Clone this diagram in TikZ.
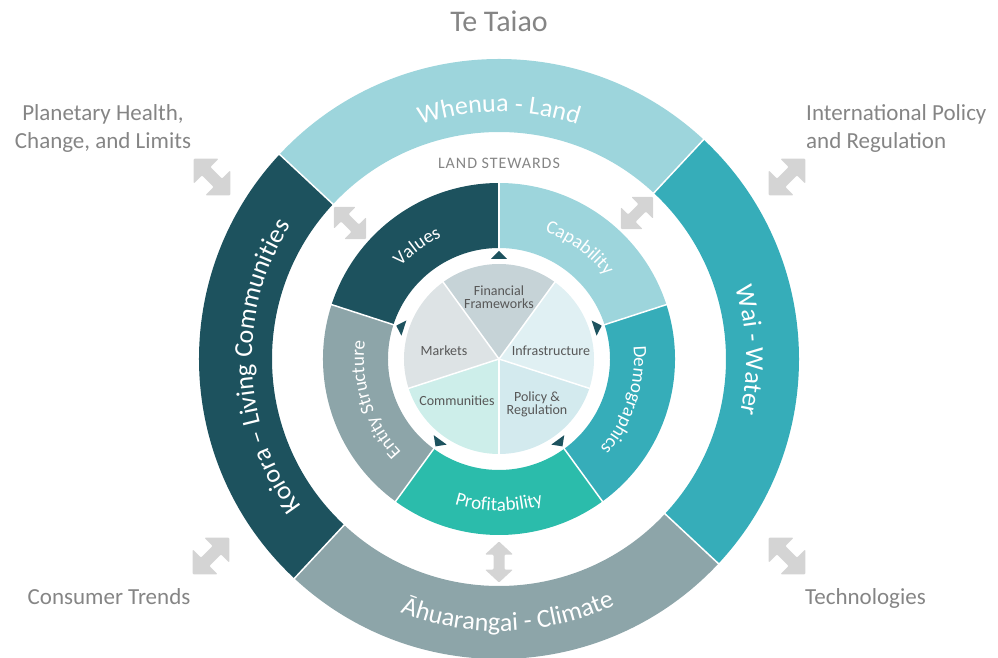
\documentclass[tikz,border=0pt]{standalone}
\usepackage{fontspec}
\setmainfont{Carlito}
\usetikzlibrary{decorations.text}

\definecolor{deepteal}{HTML}{1D525E}
\definecolor{paleteal}{HTML}{9DD5DC}
\definecolor{seateal}{HTML}{36ADB9}
\definecolor{slateteal}{HTML}{8DA5A9}
\definecolor{jade}{HTML}{2BBCAB}
\definecolor{pieFin}{HTML}{C6D3D7}
\definecolor{pieMkt}{HTML}{DDE3E5}
\definecolor{pieInf}{HTML}{E0F0F3}
\definecolor{pieCom}{HTML}{CDEEEA}
\definecolor{piePol}{HTML}{D3EAEE}
\definecolor{labelgrey}{HTML}{858585}
\definecolor{piegrey}{HTML}{575757}
\definecolor{arrowgrey}{HTML}{D4D4D4}

% annular sector: start angle, end angle, inner radius, outer radius, colour
\newcommand\ringseg[5]{%
  \fill[#5] (#1:#3) arc[start angle=#1, end angle=#2, radius=#3]
    -- (#2:#4) arc[start angle=#2, end angle=#1, radius=#4] -- cycle;}
% pie slice: start angle, end angle, radius, colour
\newcommand\pieslice[4]{%
  \fill[#4] (0,0) -- (#1:#3) arc[start angle=#1, end angle=#2, radius=#3] -- cycle;}
% text on an arc: start angle, end angle, baseline radius, font/colour, text
\newcommand\arclabel[5]{%
  \path[decorate, decoration={text along path, text align=center,
    text={|#4|#5}}] (#1:#3) arc[start angle=#1, end angle=#2, radius=#3];}

\tikzset{
  outerlabel/.style={text=labelgrey, font=\fontsize{23}{28}\selectfont, inner sep=0pt},
  pielabel/.style={text=piegrey, font=\fontsize{14}{14}\selectfont, inner sep=0pt, anchor=base},
  divider/.style={white, line width=1.5pt},
  pics/diagarrow/.style={code={
    \fill[arrowgrey, rounded corners=1.2pt] (26,0) -- (8.3,17.7) -- (8.3,6) -- (-8.3,6)
      -- (-8.3,17.7) -- (-26,0) -- (-8.3,-17.7) -- (-8.3,-6) -- (8.3,-6) -- (8.3,-17.7) -- cycle;}},
  pics/vertarrow/.style={code={
    \fill[arrowgrey, rounded corners=1pt] (0,20.5) -- (14,7.5) -- (5.5,7.5) -- (5.5,-7.5)
      -- (14,-7.5) -- (0,-20.5) -- (-14,-7.5) -- (-5.5,-7.5) -- (-5.5,7.5) -- (-14,7.5) -- cycle;}},
  pics/flowtick/.style={code={
    \fill[deepteal] (4,0) -- (-4,8) -- (-4,-8) -- cycle;}},
}

\begin{document}
\begin{tikzpicture}[x=1pt,y=1pt]
\useasboundingbox (-499,-299) rectangle (499,359);

% outer ring: the four elements
\ringseg{47}{137}{227}{300}{paleteal}
\ringseg{137}{227}{227}{300}{deepteal}
\ringseg{227}{317}{227}{300}{slateteal}
\ringseg{-43}{47}{227}{300}{seateal}
\foreach \a in {47,137,227,317} \draw[divider] (\a:226) -- (\a:301);

% middle ring: land steward attributes
\ringseg{90}{162}{111}{176}{deepteal}
\ringseg{162}{234}{111}{176}{slateteal}
\ringseg{234}{306}{111}{176}{jade}
\ringseg{306}{378}{111}{176}{seateal}
\ringseg{18}{90}{111}{176}{paleteal}
\foreach \a in {18,90,162,234,306} \draw[divider] (\a:110) -- (\a:177);

% inner pie
\pieslice{54}{126}{95}{pieFin}
\pieslice{126}{198}{95}{pieMkt}
\pieslice{198}{270}{95}{pieCom}
\pieslice{270}{342}{95}{piePol}
\pieslice{-18}{54}{95}{pieInf}
\foreach \a in {54,126,198,270,342} \draw[divider] (0,0) -- (\a:96);

% small direction marks between pie and middle ring
\foreach \a in {18,90,162,234,306} \pic[rotate=\a] at (\a:104) {flowtick};

% outer ring labels
\arclabel{170}{10}{247}{\fontsize{26}{26}\selectfont\color{white}}{Whenua - Land}
\arclabel{82}{-78}{247}{\fontsize{26}{26}\selectfont\color{white}}{Wai - Water}
\arclabel{262}{102}{247}{\fontsize{26}{26}\selectfont\color{white}}{Koiora – Living Communities}
\arclabel{192}{352}{272}{\fontsize{26}{26}\selectfont\color{white}}{Āhuarangai - Climate}

% middle ring labels
\arclabel{196}{56}{135}{\fontsize{19}{19}\selectfont\color{white}}{Values}
\arclabel{124}{-16}{135}{\fontsize{19}{19}\selectfont\color{white}}{Capability}
\arclabel{52}{-88}{135}{\fontsize{19}{19}\selectfont\color{white}}{Demographics}
\arclabel{268}{128}{135}{\fontsize{19}{19}\selectfont\color{white}}{Entity Structure}
\arclabel{200}{340}{152}{\fontsize{19}{19}\selectfont\color{white}}{Profitability}

% pie labels
\node[pielabel] (fin1) at (0,63) {Financial};
\node[pielabel] (fin2) at (0,50) {Frameworks};
\node[pielabel] (mkt) at (-55,3) {Markets};
\node[pielabel] (inf) at (52,3) {Infrastructure};
\node[pielabel] (com) at (-42,-47) {Communities};
\node[pielabel] (pol1) at (38,-43) {Policy \&};
\node[pielabel] (pol2) at (38,-56) {Regulation};

% titles and surrounding influences
\node[text=labelgrey, font=\fontsize{30}{30}\selectfont, inner sep=0pt, anchor=base] (title) at (0,327) {Te Taiao};
\node[text=labelgrey, font=\fontsize{16}{16}\selectfont\addfontfeatures{LetterSpace=6}, inner sep=0pt, anchor=base] (stewards) at (0,190) {LAND STEWARDS};
\node[outerlabel, anchor=base] (planet1) at (-396,238) {Planetary Health,};
\node[outerlabel, anchor=base] (planet2) at (-396,210) {Change, and Limits};
\node[outerlabel, anchor=base west] (intl1) at (307,238) {International Policy};
\node[outerlabel, anchor=base west] (intl2) at (307,210) {and Regulation};
\node[outerlabel, anchor=base] (consumer) at (-390,-245) {Consumer Trends};
\node[outerlabel, anchor=base west] (tech) at (306,-245) {Technologies};

% two-way influence arrows
\pic[rotate=-45] at (-287,182) {diagarrow};
\pic[rotate=45] at (288,182) {diagarrow};
\pic[rotate=45] at (-288,-197) {diagarrow};
\pic[rotate=-45] at (288,-197) {diagarrow};
\pic[rotate=-45, scale=0.88] at (-149,136) {diagarrow};
\pic[rotate=45, scale=0.88] at (138,146) {diagarrow};
\pic at (0,-203) {vertarrow};
\end{tikzpicture}
\end{document}
